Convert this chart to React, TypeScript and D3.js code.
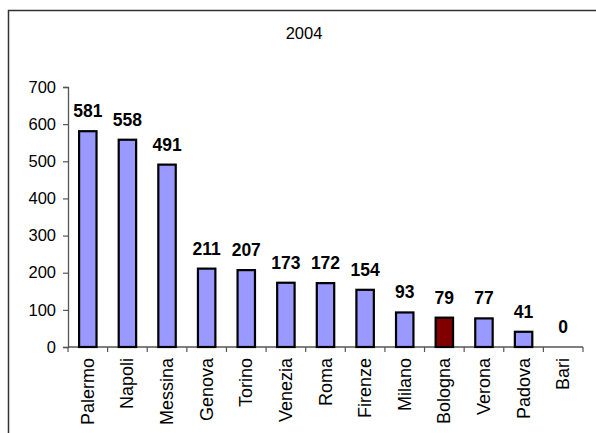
import React, { useEffect, useRef } from 'react';
import * as d3 from 'd3';

const cities = ['Palermo', 'Napoli', 'Messina', 'Genova', 'Torino', 'Venezia', 'Roma', 'Firenze', 'Milano', 'Bologna', 'Verona', 'Padova', 'Bari'];
const values = [581, 558, 491, 211, 207, 173, 172, 154, 93, 79, 77, 41, 0];
const yTicks = [0, 100, 200, 300, 400, 500, 600, 700];
const highlight = 'Bologna';
const title = '2004';

export default function App() {
  const svgRef = useRef<SVGSVGElement>(null);

  useEffect(() => {
    if (!svgRef.current) return;
    const width = 596;
    const height = 433;
    const margin = { left: 68, right: 13, top: 87, bottom: 86 };

    d3.select(svgRef.current).selectAll('*').remove();
    const svg = d3.select(svgRef.current)
      .attr('width', width)
      .attr('height', height);

    const font = 'Arial, "Liberation Sans", sans-serif';

    // outer frame (runs off right and bottom edges)
    svg.append('rect')
      .attr('x', 8.5).attr('y', 10.5)
      .attr('width', 620).attr('height', 440)
      .attr('fill', 'white')
      .attr('stroke', '#333').attr('stroke-width', 1.5);

    svg.append('text')
      .attr('x', 304).attr('y', 39)
      .attr('text-anchor', 'middle')
      .attr('font-family', font).attr('font-size', 16.5)
      .text(title);

    const x = d3.scaleBand<string>()
      .domain(cities)
      .range([margin.left, width - margin.right])
      .paddingInner(0.56)
      .paddingOuter(0.28);

    const y = d3.scaleLinear()
      .domain([0, 700])
      .range([height - margin.bottom, margin.top]);

    const y0 = y(0);

    // y axis
    const axisY = svg.append('g')
      .attr('transform', `translate(${margin.left},0)`)
      .call(d3.axisLeft(y).tickValues(yTicks).tickSize(5).tickPadding(7).tickFormat(d3.format('d')));
    axisY.select('.domain').attr('stroke', '#555').attr('stroke-width', 1.3);
    axisY.selectAll('.tick line').attr('stroke', '#555').attr('stroke-width', 1.2);
    axisY.selectAll('.tick text')
      .attr('font-family', font).attr('font-size', 16.5).attr('fill', '#000');

    // x axis line and ticks at band edges
    const step = x.step();
    const x0 = margin.left;
    svg.append('line')
      .attr('x1', x0).attr('x2', x0 + step * cities.length)
      .attr('y1', y0).attr('y2', y0)
      .attr('stroke', '#555').attr('stroke-width', 1.3);
    d3.range(cities.length + 1).forEach(i => {
      svg.append('line')
        .attr('x1', x0 + i * step).attr('x2', x0 + i * step)
        .attr('y1', y0).attr('y2', y0 + 5)
        .attr('stroke', '#555').attr('stroke-width', 1.2);
    });

    // bars
    svg.append('g').selectAll('rect')
      .data(cities.filter((_, i) => values[i] > 0))
      .join('rect')
      .attr('x', d => x(d)!)
      .attr('y', d => y(values[cities.indexOf(d)]))
      .attr('width', x.bandwidth())
      .attr('height', d => y0 - y(values[cities.indexOf(d)]))
      .attr('fill', d => d === highlight ? '#800000' : '#9999FF')
      .attr('stroke', '#000').attr('stroke-width', 2.2);

    // value labels
    svg.append('g').selectAll('text')
      .data(cities)
      .join('text')
      .attr('x', d => x(d)! + x.bandwidth() / 2)
      .attr('y', d => y(values[cities.indexOf(d)]) - 14)
      .attr('text-anchor', 'middle')
      .attr('font-family', font).attr('font-size', 17.5).attr('font-weight', 'bold')
      .text(d => values[cities.indexOf(d)]);

    // category labels, rotated
    svg.append('g').selectAll('text')
      .data(cities)
      .join('text')
      .attr('transform', d => `translate(${x(d)! + x.bandwidth() / 2},${y0 + 11}) rotate(-90)`)
      .attr('text-anchor', 'end')
      .attr('dominant-baseline', 'central')
      .attr('font-family', font).attr('font-size', 18)
      .text(d => d);
  }, []);

  return (
    <svg ref={svgRef} style={{ position: 'absolute', left: 0, top: 0, display: 'block' }} />
  );
}
